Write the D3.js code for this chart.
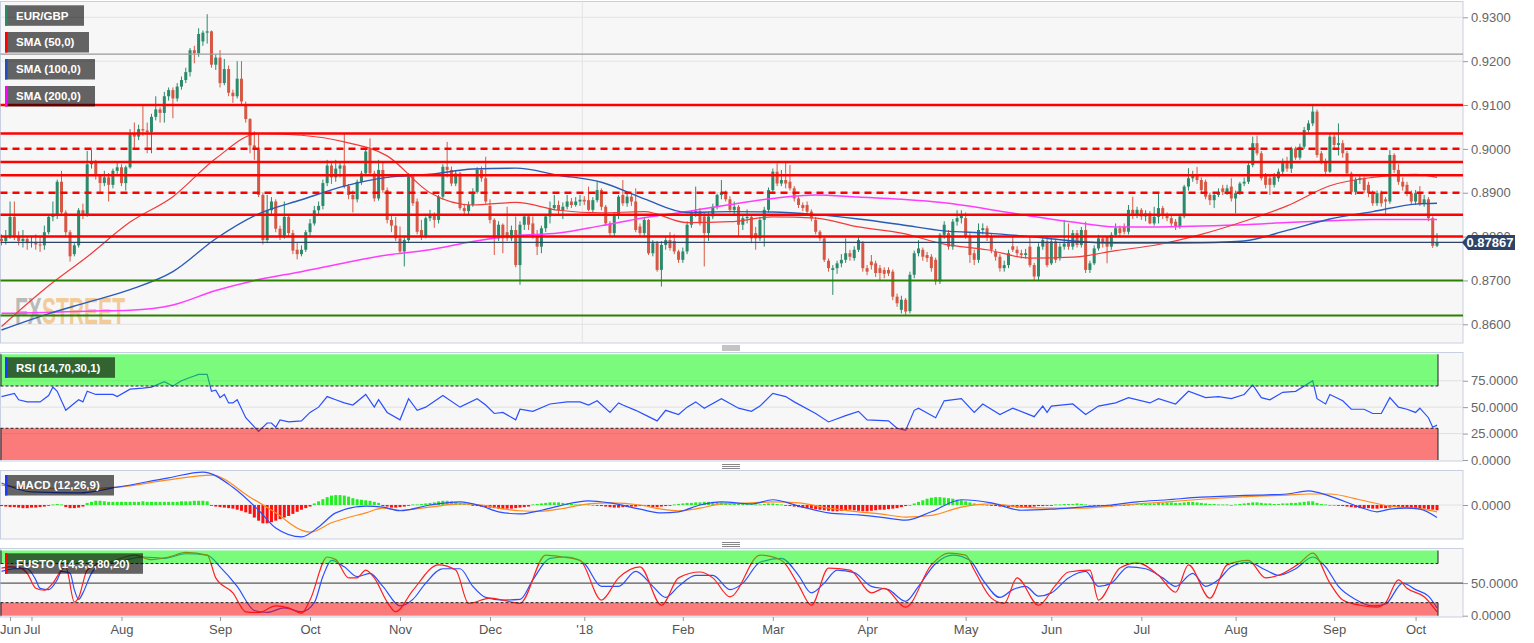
<!DOCTYPE html>
<html><head><meta charset="utf-8">
<script src="https://cdn.jsdelivr.net/npm/d3@7"></script>
<style>body{margin:0;background:#fff;}svg{display:block;font-family:"Liberation Sans",Arial,sans-serif;}</style>
</head><body><svg id="c" width="1534" height="643"></svg>
<script>
// ---- DATA (prices in units of 0.0001) ----
const opens=[8795,8790,8800,8845,8800,8790,8795,8785,8788,8782,8780,8810,8845,8850,8925,8855,8810,8760,8780,8860,8850,8965,8972,8938,8922,8935,8918,8950,8958,8922,8958,9035,9028,9045,9042,9038,9073,9090,9082,9120,9134,9115,9142,9157,9175,9225,9218,9245,9265,9268,9192,9208,9150,9182,9128,9120,9160,9100,9068,9008,8998,8895,8792,8860,8880,8818,8800,8845,8808,8770,8760,8770,8810,8830,8860,8870,8922,8962,8935,8955,8962,8915,8895,8885,8925,8944,9000,8944,8887,8952,8906,8838,8825,8796,8766,8792,8937,8880,8815,8800,8842,8849,8838,8891,8959,8952,8921,8944,8865,8858,8872,8902,8952,8933,8870,8838,8796,8827,8810,8796,8815,8735,8827,8846,8830,8800,8777,8819,8846,8865,8872,8860,8868,8880,8872,8880,8884,8883,8861,8883,8906,8868,8830,8808,8849,8895,8876,8891,8880,8823,8808,8838,8762,8785,8724,8781,8792,8790,8766,8747,8766,8827,8853,8858,8846,8808,8846,8868,8895,8900,8885,8861,8868,8827,8842,8845,8808,8796,8838,8861,8906,8948,8921,8929,8925,8910,8887,8872,8872,8857,8838,8811,8796,8745,8724,8728,8739,8747,8762,8751,8770,8785,8728,8743,8739,8728,8724,8724,8720,8663,8633,8656,8630,8713,8762,8770,8758,8754,8747,8698,8804,8808,8777,8834,8842,8842,8800,8762,8747,8815,8819,8800,8765,8754,8728,8735,8778,8770,8762,8758,8777,8735,8709,8777,8789,8739,8789,8751,8777,8789,8777,8808,8781,8815,8724,8739,8773,8796,8800,8777,8804,8819,8823,8811,8861,8849,8861,8846,8853,8830,8845,8865,8849,8842,8834,8823,8846,8914,8933,8940,8929,8925,8895,8883,8895,8910,8902,8914,8887,8899,8921,8925,8963,9013,8990,8940,8933,8918,8933,8948,8971,8955,9001,8980,9005,9043,9058,9085,8990,8971,8948,9028,9009,9013,8990,8944,8902,8929,8933,8918,8899,8876,8899,8885,8880,8986,8952,8925,8918,8899,8880,8899,8876,8885,8842,8779];
const highs=[8805,8815,8880,8880,8812,8815,8800,8800,8805,8800,8825,8850,8880,8930,8950,8860,8815,8785,8865,8875,8995,8998,8975,8940,8950,8945,8955,8970,8965,8962,9045,9060,9055,9100,9060,9080,9120,9095,9130,9140,9140,9150,9165,9185,9230,9235,9275,9270,9307,9270,9215,9225,9205,9190,9135,9200,9200,9108,9070,9040,9035,8900,8895,8890,8885,8825,8880,8850,8815,8785,8780,8815,8840,8870,8880,8930,8975,8970,8975,8970,9035,8920,8905,8930,8950,8998,9024,8950,8975,8971,8912,8850,8845,8823,8800,8945,8940,8887,8838,8846,8861,8855,8895,8965,9016,8960,8950,8948,8875,8880,8910,8958,8960,8982,8885,8842,8835,8830,8868,8825,8846,8835,8850,8848,8846,8815,8825,8850,8880,8895,8882,8878,8895,8888,8890,8895,8892,8914,8890,8925,8910,8872,8835,8855,8895,8929,8900,8898,8910,8830,8845,8840,8792,8790,8790,8800,8810,8805,8770,8775,8835,8860,8914,8865,8855,8855,8875,8898,8929,8905,8892,8880,8872,8850,8862,8850,8822,8845,8868,8912,8955,8967,8952,8971,8963,8915,8892,8878,8880,8862,8845,8815,8800,8750,8735,8745,8760,8796,8770,8778,8800,8790,8735,8758,8745,8735,8730,8730,8725,8670,8665,8660,8720,8768,8792,8775,8765,8760,8752,8808,8835,8815,8840,8860,8860,8855,8808,8770,8830,8830,8825,8808,8772,8760,8745,8770,8800,8778,8770,8772,8800,8740,8785,8798,8800,8795,8795,8785,8838,8830,8815,8815,8822,8834,8745,8780,8804,8800,8800,8810,8830,8825,8830,8872,8891,8868,8865,8860,8858,8868,8902,8870,8855,8848,8840,8852,8918,8956,8950,8959,8935,8930,8900,8900,8910,8918,8918,8933,8905,8925,8935,8968,9028,9030,8995,8945,8940,8945,8955,8978,8982,9005,9005,9012,9050,9065,9100,9090,8995,8978,9035,9035,9058,9020,8995,8948,8935,8940,8937,8925,8905,8905,8905,8890,8997,8990,8965,8935,8925,8905,8906,8915,8895,8890,8846,8808];
const lows=[8780,8782,8795,8792,8780,8775,8770,8775,8770,8765,8770,8805,8835,8840,8850,8800,8743,8755,8775,8840,8845,8955,8930,8900,8915,8880,8910,8940,8915,8905,8955,8998,9020,9030,8990,8990,9065,9060,9060,9110,9070,9108,9135,9150,9165,9195,9210,9235,9240,9185,9180,9140,9145,9120,9105,9115,9100,9060,8990,8975,8890,8782,8785,8850,8810,8792,8795,8800,8760,8748,8755,8765,8800,8825,8850,8862,8915,8920,8925,8935,8910,8885,8855,8878,8918,8938,8940,8880,8882,8900,8830,8810,8790,8760,8732,8788,8870,8805,8792,8796,8835,8820,8830,8885,8935,8915,8915,8860,8850,8850,8868,8898,8925,8875,8830,8758,8790,8762,8790,8790,8730,8690,8815,8815,8795,8758,8762,8810,8830,8860,8850,8840,8862,8865,8868,8870,8872,8858,8855,8878,8860,8825,8800,8800,8840,8870,8868,8870,8810,8800,8800,8758,8755,8720,8686,8770,8768,8760,8740,8740,8760,8820,8845,8825,8732,8790,8840,8862,8885,8880,8855,8850,8800,8815,8830,8785,8770,8790,8777,8855,8900,8915,8915,8910,8905,8880,8865,8858,8850,8835,8805,8790,8742,8720,8667,8715,8730,8740,8745,8745,8765,8720,8712,8725,8708,8700,8705,8710,8655,8640,8625,8622,8625,8705,8755,8745,8742,8720,8690,8692,8795,8770,8770,8825,8830,8795,8740,8735,8740,8805,8790,8762,8745,8720,8720,8728,8765,8755,8750,8750,8730,8700,8700,8770,8730,8735,8740,8745,8770,8770,8770,8775,8775,8717,8717,8735,8768,8775,8739,8770,8800,8800,8805,8805,8840,8842,8838,8835,8828,8825,8830,8840,8835,8822,8815,8818,8842,8905,8925,8920,8900,8885,8872,8865,8890,8895,8895,8880,8853,8895,8915,8920,8958,8985,8928,8910,8895,8912,8925,8942,8948,8945,8975,8975,9000,9038,9052,8980,8965,8940,8945,9000,8985,8980,8938,8895,8895,8920,8900,8890,8870,8870,8868,8849,8875,8945,8918,8905,8892,8872,8872,8870,8868,8835,8774,8776];
const closes=[8790,8800,8845,8800,8790,8795,8785,8788,8782,8780,8810,8845,8850,8925,8855,8810,8755,8780,8860,8850,8965,8972,8938,8922,8935,8918,8950,8958,8922,8958,9035,9028,9045,9042,9038,9073,9090,9082,9120,9134,9115,9142,9157,9175,9225,9218,9262,9265,9268,9192,9208,9150,9182,9128,9120,9160,9108,9068,9008,8998,8895,8792,8860,8880,8818,8800,8845,8808,8768,8760,8770,8810,8830,8860,8870,8922,8962,8935,8955,8962,8915,8895,8885,8925,8944,8994,8944,8887,8952,8906,8838,8825,8796,8766,8792,8937,8876,8811,8800,8842,8849,8838,8891,8959,8952,8921,8944,8865,8858,8872,8902,8952,8933,8880,8838,8796,8827,8796,8796,8815,8735,8827,8846,8827,8800,8777,8819,8846,8865,8872,8860,8868,8880,8872,8880,8884,8880,8861,8883,8906,8868,8830,8808,8849,8891,8876,8891,8880,8815,8808,8838,8762,8785,8724,8781,8792,8774,8766,8747,8766,8827,8853,8858,8830,8808,8846,8868,8895,8900,8885,8861,8868,8827,8842,8845,8796,8796,8838,8861,8906,8948,8921,8929,8921,8910,8887,8872,8865,8857,8842,8811,8796,8747,8728,8728,8739,8747,8762,8754,8770,8792,8728,8720,8735,8717,8717,8715,8716,8663,8648,8656,8629,8713,8762,8773,8754,8751,8728,8698,8804,8827,8777,8834,8842,8848,8800,8758,8747,8815,8819,8800,8770,8754,8728,8735,8762,8770,8762,8758,8762,8735,8709,8777,8792,8735,8789,8747,8777,8784,8777,8808,8781,8815,8724,8739,8773,8796,8785,8777,8804,8819,8808,8811,8861,8849,8861,8846,8853,8830,8845,8865,8849,8842,8830,8823,8846,8914,8933,8940,8929,8906,8891,8883,8895,8902,8902,8910,8887,8899,8921,8925,8963,9013,8990,8933,8918,8918,8937,8948,8971,8955,9001,8980,9005,9043,9058,9085,8986,8971,8948,9028,9009,9013,8990,8944,8902,8929,8933,8906,8899,8876,8899,8876,8880,8986,8952,8925,8914,8899,8880,8899,8876,8885,8842,8779,8787];
const lastPrice=0.87867;
const smaIdx=[0,10,20,30,40,50,60,70,80,90,100,110,120,130,140,150,160,170,180,190,200,210,220,230,240,250,260,270,280,290,300,310,320,330,335];
const sma50=[8595,8680,8754,8833,8891,8978,9035,9031,9016,8984,8900,8872,8878,8860,8854,8857,8832,8834,8845,8842,8822,8808,8783,8770,8751,8753,8768,8782,8805,8835,8870,8916,8935,8942,8935];
const sma100=[8587,8621,8650,8679,8720,8795,8852,8884,8915,8935,8942,8954,8956,8940,8924,8886,8855,8857,8856,8850,8840,8827,8813,8808,8800,8790,8785,8785,8786,8790,8814,8840,8857,8874,8876];
const sma200=[8625,8627,8630,8632,8644,8677,8702,8720,8740,8758,8770,8789,8802,8808,8825,8843,8857,8873,8887,8895,8890,8885,8877,8863,8847,8833,8822,8822,8824,8827,8832,8836,8839,8839,8839];
const resistSolid=[0.9100,0.9035,0.8970,0.8940,0.8850,0.8800];
const resistDashed=[0.9000,0.8900];
const supportGreen=[0.8700,0.8620];
const grayLevel=[0.9216];
const priceTicks=[0.86,0.87,0.88,0.89,0.90,0.91,0.92,0.93];
const monthIdx=[2,7,28,51,72,93,114,136,159,180,202,225,245,266,288,311,330];
const monthLabels=["Jun","Jul","Aug","Sep","Oct","Nov","Dec","'18","Feb","Mar","Apr","May","Jun","Jul","Aug","Sep","Oct"];
const rsi=[[0,60],[3,63],[4,57],[6,55],[9,55],[11,61],[12,69],[13,65],[15,47],[18,57],[19,55],[20,65],[22,62],[26,62],[27,60],[30,67],[33,68],[35,69],[38,74],[40,70],[42,75],[44,78],[46,81],[48,81],[49,65],[50,66],[51,59],[52,62],[53,54],[54,54],[55,57],[57,40],[60,27],[62,35],[63,35],[64,31],[65,38],[67,36],[70,37],[72,45],[74,50],[76,60],[78,57],[80,54],[82,52],[85,62],[87,50],[88,57],[90,45],[93,38],[95,58],[97,47],[99,50],[103,61],[107,50],[111,58],[113,52],[115,44],[117,45],[120,38],[121,48],[124,46],[128,53],[132,55],[135,55],[137,52],[139,56],[142,45],[144,54],[145,52],[148,47],[151,41],[153,37],[155,47],[158,43],[160,50],[162,55],[164,49],[168,58],[172,49],[175,46],[177,51],[180,63],[183,60],[185,55],[190,44],[193,36],[197,42],[200,46],[202,38],[207,37],[209,30],[211,28],[213,47],[214,49],[218,40],[220,56],[224,58],[227,45],[229,53],[233,43],[236,49],[241,41],[243,51],[244,45],[245,51],[250,53],[253,43],[256,51],[260,54],[263,59],[268,54],[270,58],[274,53],[277,65],[281,59],[284,60],[287,58],[290,62],[292,71],[294,59],[296,57],[299,64],[302,65],[306,75],[307,58],[309,53],[310,62],[313,56],[315,48],[318,48],[320,44],[322,44],[324,59],[326,50],[328,48],[330,45],[331,49],[333,40],[334,31],[335,33]];
const macdLine=[[0,42],[7,25],[18,23],[27,34],[39,52],[47,63],[54,34],[60,-10],[64,-44],[70,-61],[74,-42],[78,-15],[85,-2],[89,-4],[93,-11],[100,0],[107,6],[112,-2],[116,-13],[121,-17],[126,-10],[130,-2],[137,8],[142,4],[149,-8],[154,-15],[158,-13],[163,0],[168,6],[175,2],[180,10],[186,-2],[193,-15],[200,-19],[205,-23],[211,-29],[217,-13],[224,10],[231,4],[238,-10],[245,-8],[252,-4],[259,0],[265,6],[272,10],[280,15],[286,17],[293,19],[300,21],[305,27],[310,17],[317,-4],[321,-13],[324,-8],[328,-6],[331,-8],[335,-24]];
const macdSignal=[[0,38],[7,32],[23,32],[27,34],[39,48],[49,57],[58,15],[64,-15],[70,-48],[72,-52],[77,-34],[85,-15],[89,-6],[93,-10],[100,-4],[107,2],[112,0],[116,-6],[121,-11],[126,-12],[130,-8],[137,2],[142,4],[149,0],[154,-8],[158,-11],[163,-6],[168,2],[175,4],[180,6],[186,4],[193,-6],[200,-13],[205,-17],[211,-23],[217,-20],[224,-4],[231,2],[238,-4],[245,-6],[252,-6],[259,-2],[265,2],[272,6],[280,11],[286,14],[293,17],[300,19],[305,21],[310,21],[317,10],[324,-2],[328,-5],[331,-7],[335,-13]];
const macdHist=[-2,-3,-4,-4,-5,-6,-6,-5,-5,-4,-3,-1,1,2,1,-4,-6,-6,-5,-3,4,6,8,8,7,6,6,6,6,6,6,6,6,7,6,6,6,6,6,6,6,6,7,7,7,8,8,8,7,-1,-3,-4,-5,-6,-7,-9,-11,-14,-17,-24,-30,-35,-35,-33,-30,-27,-24,-21,-17,-13,-9,-6,-3,3,7,11,15,18,19,19,18,16,13,11,10,9,8,6,4,-2,-3,-5,-5,-4,-3,-1,1,1,2,3,4,5,7,8,8,7,6,4,3,2,-1,-2,-3,-4,-5,-6,-7,-8,-7,-7,-6,-5,-4,-3,1,2,3,4,5,5,5,4,3,2,1,1,2,1,0,-1,-2,-3,-4,-5,-5,-4,-4,-3,-3,-2,-2,-3,-4,-4,-3,-2,-1,1,2,3,4,4,5,5,6,6,6,5,5,4,3,3,2,2,2,2,1,1,2,3,3,2,1,-1,-2,-3,-4,-5,-6,-7,-8,-9,-10,-11,-12,-12,-11,-10,-9,-10,-11,-12,-12,-11,-10,-9,-9,-8,-7,-6,-4,-2,0,3,6,9,12,14,15,15,14,13,12,10,9,7,5,3,2,1,0,-1,-2,-3,-3,-4,-4,-5,-5,-4,-4,-3,-2,-2,-1,-1,1,1,2,2,2,3,2,1,0,-1,-2,-2,-3,-3,-2,-2,-1,0,1,2,2,2,3,3,4,4,5,5,4,4,5,6,6,5,4,3,2,2,1,1,1,0,1,2,3,4,5,5,4,3,3,2,2,3,3,4,4,5,6,7,7,4,2,1,0,0,-1,-2,-3,-4,-5,-6,-6,-6,-7,-7,-6,-6,-5,-4,-4,-5,-5,-6,-6,-7,-7,-8,-9,-10];
const stochK=[[0,73],[2,75],[4,74],[6,65],[8,42],[10,39],[12,50],[14,70],[15,75],[17,21],[18,28],[20,70],[23,80],[25,82],[31,93],[35,86],[39,90],[43,97],[48,93],[50,58],[54,35],[57,6],[60,5],[64,15],[67,12],[70,4],[72,24],[76,90],[78,86],[81,58],[83,58],[85,70],[87,58],[90,21],[92,6],[96,39],[102,78],[106,70],[109,19],[114,27],[117,24],[121,19],[127,93],[131,90],[135,85],[140,24],[144,58],[149,75],[154,16],[158,58],[163,67],[166,58],[170,29],[177,93],[182,85],[186,47],[189,16],[193,73],[198,70],[203,35],[206,42],[211,13],[217,78],[221,96],[225,93],[227,70],[231,27],[234,19],[237,58],[242,16],[246,47],[249,67],[254,70],[256,24],[261,73],[265,81],[270,62],[274,36],[277,78],[282,27],[286,78],[291,85],[295,58],[298,62],[303,81],[306,96],[310,50],[313,24],[317,16],[321,13],[323,20],[326,55],[328,42],[332,29],[335,6]];
const stochD=[[0,68],[3,72],[6,72],[8,55],[9,42],[11,40],[13,55],[14,68],[16,65],[17,40],[18,25],[19,35],[21,65],[23,78],[28,84],[33,90],[38,88],[43,95],[48,93],[51,75],[55,45],[59,8],[62,5],[66,12],[70,6],[73,20],[75,60],[77,85],[80,75],[83,60],[86,65],[89,45],[93,15],[96,25],[99,50],[103,72],[107,72],[110,45],[113,28],[117,24],[121,25],[124,55],[128,88],[132,90],[136,80],[140,45],[144,45],[148,68],[152,45],[155,28],[158,45],[162,62],[166,62],[170,40],[173,50],[177,82],[182,88],[186,62],[189,35],[192,50],[195,70],[199,66],[203,45],[207,40],[211,22],[214,45],[218,80],[222,93],[226,85],[229,55],[233,28],[236,40],[239,45],[242,30],[245,35],[249,58],[253,68],[256,45],[259,50],[263,75],[267,72],[271,58],[274,45],[278,65],[281,45],[284,55],[287,75],[291,82],[295,70],[298,62],[302,72],[306,90],[309,75],[312,45],[316,25],[320,15],[323,18],[327,50],[330,40],[333,30],[335,12]];

// ---- LAYOUT ----
const svg=d3.select('#c');
const PR=1463, ZR=1438;
const P={main:[1.5,343],rsi:[352.5,461],macd:[470.5,539],fusto:[548.5,617]};
const n=closes.length;
const x=d3.scaleLinear().domain([0,n-1]).range([1.5,1437]);
const yM=d3.scaleLinear().domain([0.86,0.93]).range([324.3,17.3]);
const yR=d3.scaleLinear().domain([0,100]).range([460,354.3]);
const yD=d3.scaleLinear().domain([-65,65]).range([539,471]);
const yS=d3.scaleLinear().domain([0,100]).range([615.7,550.5]);
const up='#2b8a6b', dn='#d65844';
const defs=svg.append('defs');
Object.entries(P).forEach(([k,[t,b]])=>{
  defs.append('clipPath').attr('id','cl-'+k).append('rect').attr('x',0).attr('y',t).attr('width',PR).attr('height',b-t);
  svg.append('rect').attr('x',0.5).attr('y',t).attr('width',PR-0.5).attr('height',b-t)
     .attr('fill','#f7f7f7').attr('stroke','#c8cfe0').attr('stroke-width',1);
});
function hline(g,y,color,w,dash,x0=0.5,x1=PR){
  const l=g.append('line').attr('x1',x0).attr('x2',x1).attr('y1',y).attr('y2',y).attr('stroke',color).attr('stroke-width',w);
  if(dash) l.attr('stroke-dasharray',dash);
  return l;
}
function rAxis(scale,vals,fmt){
  const g=svg.append('g').attr('transform',`translate(${PR},0)`)
    .call(d3.axisRight(scale).tickValues(vals).tickSize(5).tickPadding(3).tickFormat(fmt));
  g.select('.domain').remove();
  g.selectAll('line').attr('stroke','#999');
  g.selectAll('text').attr('fill','#666').attr('font-size',13).attr('font-family','"Liberation Sans",Arial,sans-serif');
  return g;
}
const f4=d3.format('.4f');

// ---- MAIN PANEL ----
const gm=svg.append('g').attr('clip-path','url(#cl-main)');
priceTicks.forEach(v=>hline(gm,yM(v),'#e3e3e3',1));
gm.append('line').attr('x1',x(136)-2).attr('x2',x(136)-2).attr('y1',P.main[0]).attr('y2',P.main[1]).attr('stroke','#e3e3e3');
// watermark
const wm=gm.append('text').attr('x',15).attr('y',324).attr('font-size',37).attr('font-weight','bold')
  .attr('font-family','"Liberation Sans Narrow","Arial Narrow","Liberation Sans",sans-serif').attr('opacity',0.55)
  .attr('textLength',110).attr('lengthAdjust','spacingAndGlyphs');
wm.append('tspan').text('FX').attr('fill','#8a8a8a');
wm.append('tspan').text('STREET').attr('fill','#f0a84a');
// candles
const cg=gm.append('g');
for(let i=0;i<n;i++){
  const o=opens[i]/1e4,c=closes[i]/1e4,h=highs[i]/1e4,l=lows[i]/1e4;
  const col=c>=o?up:dn, xi=x(i);
  cg.append('line').attr('x1',xi).attr('x2',xi).attr('y1',yM(Math.max(h,o,c))).attr('y2',yM(Math.min(l,o,c))).attr('stroke',col).attr('stroke-width',1);
  const yt=yM(Math.max(o,c)), yb=yM(Math.min(o,c));
  cg.append('rect').attr('x',xi-1.5).attr('y',yt).attr('width',3).attr('height',Math.max(1,yb-yt)).attr('fill',col);
}
// SMAs
const smaLine=d3.line().x((d,k)=>x(smaIdx[k])).y(d=>yM(d/1e4)).curve(d3.curveMonotoneX);
gm.append('path').attr('d',smaLine(sma200)).attr('fill','none').attr('stroke','#ff3dff').attr('stroke-width',1.5);
gm.append('path').attr('d',smaLine(sma100)).attr('fill','none').attr('stroke','#2a5bb5').attr('stroke-width',1.4);
gm.append('path').attr('d',smaLine(sma50)).attr('fill','none').attr('stroke','#f23a3a').attr('stroke-width',1.2);
// levels
grayLevel.forEach(v=>hline(gm,yM(v),'#9a9a9a',1.3));
resistSolid.forEach(v=>hline(gm,yM(v),'#ff0000',2.5));
resistDashed.forEach(v=>hline(gm,yM(v),'#ff0000',2.5,'7,5'));
supportGreen.forEach(v=>hline(gm,yM(v),'#2b8000',2));
hline(gm,yM(lastPrice),'#2d4466',1.3);
rAxis(yM,priceTicks,f4);
// price label
const py=yM(lastPrice);
svg.append('path').attr('d',`M${PR-1},${py} L${PR+5},${py-7.5} L1515,${py-7.5} L1515,${py+7.5} L${PR+5},${py+7.5} Z`).attr('fill','#2d4466');
svg.append('text').attr('x',1490).attr('y',py+4.5).attr('text-anchor','middle').attr('fill','#fff').attr('font-size',13).attr('font-weight','bold').text(d3.format('.5f')(lastPrice));

// ---- RSI PANEL ----
const gr=svg.append('g').attr('clip-path','url(#cl-rsi)');
[25,50,75].forEach(v=>hline(gr,yR(v),'#e0e0e0',1));
gr.append('path').attr('d',d3.line().x(d=>x(d[0])).y(d=>yR(d[1]))(rsi)).attr('fill','none').attr('stroke','#2a50ff').attr('stroke-width',1.2);
function zones(g,ys,hi,lo,topV,botV){
  g.append('rect').attr('x',0.5).attr('y',ys(topV)).attr('width',ZR-0.5).attr('height',ys(hi)-ys(topV)).attr('fill','rgba(0,255,0,0.5)');
  g.append('rect').attr('x',0.5).attr('y',ys(lo)).attr('width',ZR-0.5).attr('height',ys(botV)-ys(lo)).attr('fill','rgba(255,0,0,0.5)');
  hline(g,ys(hi),'#222',1,'3,2',0.5,ZR);
  hline(g,ys(lo),'#222',1,'3,2',0.5,ZR);
  [1,ZR].forEach(xx=>{
    g.append('line').attr('x1',xx).attr('x2',xx).attr('y1',ys(topV)).attr('y2',ys(hi)).attr('stroke','#222');
    g.append('line').attr('x1',xx).attr('x2',xx).attr('y1',ys(lo)).attr('y2',ys(botV)).attr('stroke','#222');
  });
}
zones(gr,yR,70,30,100,0);
rAxis(yR,[0,25,50,75],f4);

// ---- MACD PANEL ----
const gd=svg.append('g').attr('clip-path','url(#cl-macd)');
hline(gd,yD(0),'#e0e0e0',1);
macdHist.forEach((v,i)=>{
  gd.append('rect').attr('x',x(i)-1.5).attr('width',3).attr('y',Math.min(yD(0),yD(v))).attr('height',Math.max(0.8,Math.abs(yD(v)-yD(0))))
    .attr('fill',v>=0?'#22ee22':'#ff1010');
});
const pl=d3.line().x(d=>x(d[0])).curve(d3.curveMonotoneX);
gd.append('path').attr('d',pl.y(d=>yD(d[1]))(macdSignal)).attr('fill','none').attr('stroke','#ff8a1e').attr('stroke-width',1.2);
gd.append('path').attr('d',pl.y(d=>yD(d[1]))(macdLine)).attr('fill','none').attr('stroke','#2a50ff').attr('stroke-width',1.2);
rAxis(yD,[0],f4);

// ---- FUSTO PANEL ----
const gf=svg.append('g').attr('clip-path','url(#cl-fusto)');
hline(gf,yS(50),'#333',1);
gf.append('path').attr('d',pl.y(d=>yS(d[1]))(stochD)).attr('fill','none').attr('stroke','#2a50ff').attr('stroke-width',1.2);
gf.append('path').attr('d',pl.y(d=>yS(d[1]))(stochK)).attr('fill','none').attr('stroke','#ff2020').attr('stroke-width',1.2);
zones(gf,yS,80,20,100,0);
rAxis(yS,[0,50],f4);

// ---- X AXIS ----
const gx=svg.append('g').attr('transform','translate(0,617)')
  .call(d3.axisBottom(x).tickValues(monthIdx).tickSize(4).tickPadding(4).tickFormat((d,k)=>monthLabels[k]));
gx.select('.domain').remove();
gx.selectAll('line').attr('stroke','#999');
gx.selectAll('text').attr('fill','#555').attr('font-size',13).attr('font-family','"Liberation Sans",Arial,sans-serif');

// ---- separators ----
[346,464.5,542.5].forEach(y0=>{[0,2,4].forEach(d=>svg.append('line').attr('x1',722).attr('x2',740).attr('y1',y0+d).attr('y2',y0+d).attr('stroke','#888').attr('stroke-width',1));});

// ---- LEGENDS ----
function legend(y,w,col,txt){
  const g=svg.append('g');
  g.append('rect').attr('x',5).attr('y',y).attr('width',w).attr('height',20.5).attr('fill','rgba(0,0,0,0.6)');
  g.append('rect').attr('x',5).attr('y',y).attr('width',2.5).attr('height',20.5).attr('fill',col);
  g.append('text').attr('x',16).attr('y',y+14.3).attr('fill','#fff').attr('font-size',11.5).attr('font-weight','bold').text(txt);
}
legend(5.3,79,'#2a8a6a','EUR/GBP');
legend(32,84,'#ff0000','SMA (50,0)');
legend(59,90,'#1f4fbf','SMA (100,0)');
legend(86,90,'#ff00ff','SMA (200,0)');
legend(357.3,110,'#1a3cff','RSI (14,70,30,1)');
legend(475,109,'#1a3cff','MACD (12,26,9)');
legend(553.3,138,'#ff0000','FUSTO (14,3,3,80,20)');
</script></body></html>
